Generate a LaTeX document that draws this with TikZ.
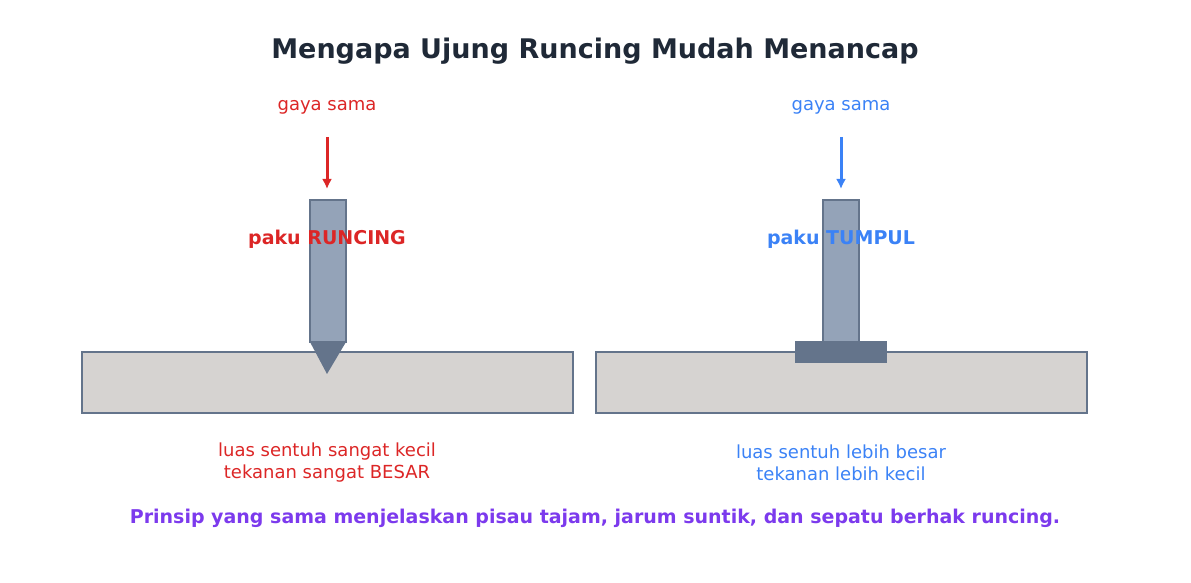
\documentclass[tikz,border=0pt]{standalone}
\usepackage{fontspec}
\setmainfont{DejaVu Sans}
\definecolor{ink}{HTML}{1F2937}
\definecolor{sharp}{HTML}{DC2626}
\definecolor{blunt}{HTML}{3B82F6}
\definecolor{note}{HTML}{7C3AED}
\definecolor{steel}{HTML}{94A3B8}
\definecolor{slate}{HTML}{64748B}
\definecolor{board}{HTML}{D6D3D1}
\tikzset{
  ground/.style={draw=slate,line width=1pt,fill=board},
  shaft/.style={draw=slate,line width=1pt,fill=steel},
  force/.style={line width=1.5pt,-{Latex[length=5pt,width=5pt]}},
  lbl/.style={font=\fontsize{9}{11}\selectfont,align=center},
  nailname/.style={font=\fontsize{9.5}{11}\selectfont\bfseries}
}
\usetikzlibrary{arrows.meta}
\begin{document}
\begin{tikzpicture}[x=0.5pt,y=-0.5pt]
  \useasboundingbox (0,0) rectangle (1191,583);
  \node[font=\fontsize{13.5}{16}\selectfont\bfseries,text=ink] (title) at (595,51) {Mengapa Ujung Runcing Mudah Menancap};
  % sharp nail
  \draw[ground] (82,352) rectangle (573,413);
  \draw[shaft] (310,200) rectangle (346,342);
  \fill[slate] (310,342) -- (346,342) -- (327,374) -- cycle;
  \node[lbl,text=sharp] (gL) at (327,107) {gaya sama};
  \coordinate (aL) at (327,137);
  \coordinate (bL) at (327,189);
  \draw[force,sharp] (aL) -- (bL);
  \node[nailname,text=sharp] (nL) at (327,239) {paku RUNCING};
  \node[lbl,text=sharp] (tL) at (327,463) {luas sentuh sangat kecil\\tekanan sangat BESAR};
  % blunt nail
  \draw[ground] (596,352) rectangle (1087,413);
  \draw[shaft] (823,200) rectangle (859,342);
  \fill[slate] (795,341) rectangle (887,363);
  \node[lbl,text=blunt] (gR) at (841,107) {gaya sama};
  \coordinate (aR) at (841,137);
  \coordinate (bR) at (841,189);
  \draw[force,blunt] (aR) -- (bR);
  \node[nailname,text=blunt] (nR) at (841,239) {paku TUMPUL};
  \node[lbl,text=blunt] (tR) at (841,463) {luas sentuh lebih besar\\tekanan lebih kecil};
  \node[nailname,text=note] (foot) at (595,518) {Prinsip yang sama menjelaskan pisau tajam, jarum suntik, dan sepatu berhak runcing.};
\end{tikzpicture}
\end{document}
